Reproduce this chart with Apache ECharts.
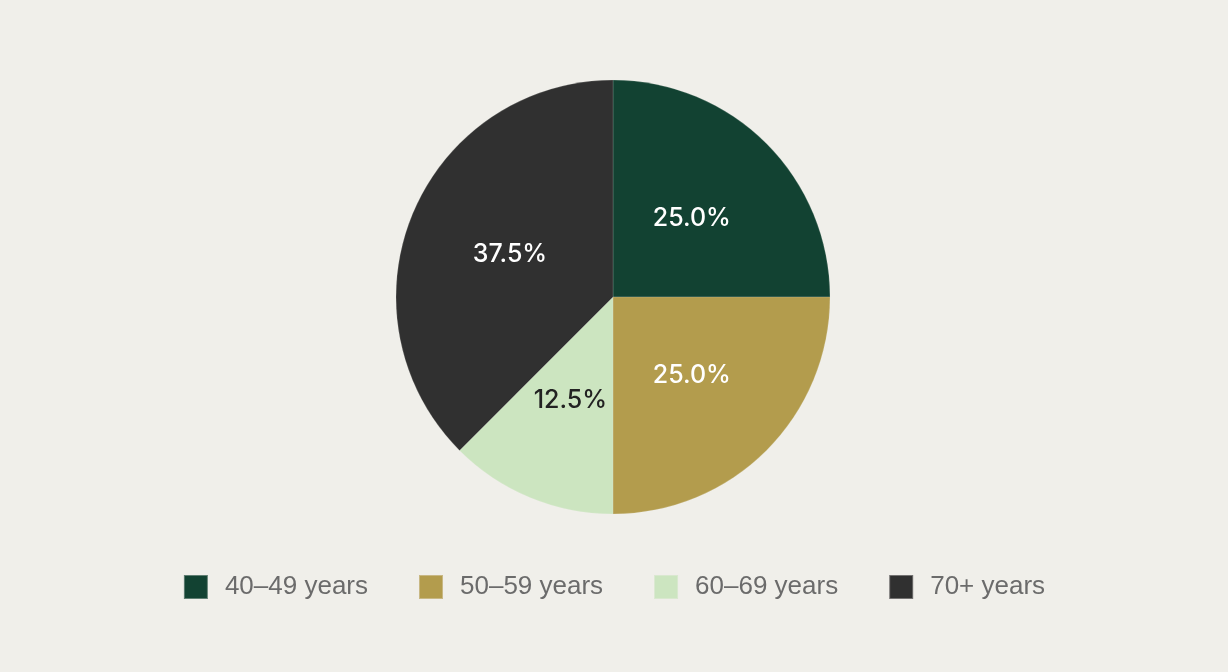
<!DOCTYPE html>
<html lang="en">
<head>
    <meta charset="UTF-8">
    <title>Age groups</title>
    <script src="https://cdn.jsdelivr.net/npm/echarts@6/dist/echarts.min.js"></script>
    <style>
        html, body { margin: 0; padding: 0; background: #f0efea; }
        #chart { width: 1228px; height: 672px; }
    </style>
</head>
<body>
<div id="chart"></div>
<script type="text/javascript">
    var categories = ['40–49 years', '50–59 years', '60–69 years', '70+ years'];
    var shares = [25.0, 25.0, 12.5, 37.5];
    var colors = ['#124232', '#b39c4d', '#cce5c0', '#303030'];
    var labelColors = ['#ffffff', '#ffffff', '#222222', '#ffffff'];

    var pieData = categories.map(function (name, i) {
        return {
            name: name,
            value: shares[i],
            itemStyle: { color: colors[i] },
            label: { color: labelColors[i] }
        };
    });

    var myChart = echarts.init(document.getElementById('chart'));
    myChart.setOption({
        backgroundColor: '#f0efea',
        animation: false,
        legend: {
            data: categories,
            top: 569,
            left: 'center',
            itemWidth: 24,
            itemHeight: 24,
            itemGap: 50,
            icon: 'rect',
            textStyle: {
                fontFamily: 'Liberation Sans, Arial, sans-serif',
                fontSize: 26,
                color: '#6b6b6b',
                padding: [0, 0, 0, 12]
            }
        },
        series: [{
            type: 'pie',
            center: [613, 297],
            radius: 217,
            startAngle: 90,
            clockwise: true,
            itemStyle: { borderColor: 'rgba(240,239,234,0.35)', borderWidth: 0.5 },
            label: {
                position: 'inside',
                fontFamily: 'Inter, Noto Sans, sans-serif',
                fontSize: 25,
                fontWeight: 500,
                formatter: function (p) { return p.value.toFixed(1) + '%'; }
            },
            labelLine: { show: false },
            emphasis: { disabled: true },
            data: pieData
        }]
    });
</script>
</body>
</html>
